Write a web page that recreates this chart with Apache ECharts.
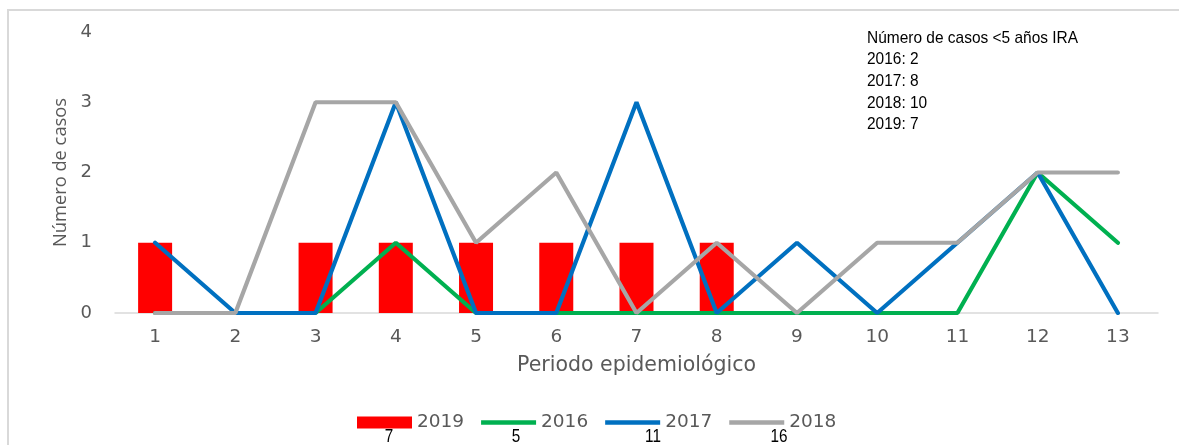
<!DOCTYPE html>
<html>
<head>
<meta charset="utf-8">
<script src="https://cdn.jsdelivr.net/npm/echarts@6/dist/echarts.min.js"></script>
<style>html,body{margin:0;padding:0;background:#fff}#c{width:1179px;height:445px}</style>
</head>
<body>
<div id="c"></div>
<script>
const categories = ['1','2','3','4','5','6','7','8','9','10','11','12','13'];
const s2019 = [1,0,1,1,1,1,1,1,0,0,0,0,0];
const s2016 = [0,0,0,1,0,0,0,0,0,0,0,2,1];
const s2017 = [1,0,0,3,0,0,3,0,1,0,1,2,0];
const s2018 = [0,0,3,3,1,2,0,1,0,1,1,2,2];
const seriesNames = ['2019','2016','2017','2018'];
const legendCounts = ['7','5','11','16'];
const noteLines = ['Número de casos <5 años IRA','2016: 2','2017: 8','2018: 10','2019: 7'];
const yTicks = [0,1,2,3,4];

const chart = echarts.init(document.getElementById('c'));
const wideFont = 'DejaVu Sans';
const countX = [389, 516, 653, 779];
const lineIcon = 'path://M0,0 L55,0 L55,4.5 L0,4.5 Z';
chart.setOption({
  animation: false,
  backgroundColor: '#fff',
  grid: {left: 115, right: 21, top: 32, height: 281},
  xAxis: {
    type: 'category', data: categories, boundaryGap: true,
    name: 'Periodo epidemiológico', nameLocation: 'middle', nameGap: 42,
    nameTextStyle: {color: '#595959', fontSize: 20.5, fontFamily: wideFont},
    axisLine: {lineStyle: {color: '#d9d9d9', width: 1.5}},
    axisTick: {show: false},
    axisLabel: {color: '#595959', fontSize: 18.5, fontFamily: wideFont, margin: 15}
  },
  yAxis: {
    type: 'value', min: yTicks[0], max: yTicks[yTicks.length-1], interval: 1,
    name: 'Número de casos', nameLocation: 'middle', nameGap: 42,
    nameTextStyle: {color: '#595959', fontSize: 18.3, fontFamily: 'Open Sans'},
    axisLine: {show: false}, axisTick: {show: false}, splitLine: {show: false},
    axisLabel: {color: '#595959', fontSize: 18, fontFamily: wideFont, margin: 23}
  },
  legend: {
    top: 408, left: 352, itemGap: 17, itemWidth: 55, itemHeight: 12,
    textStyle: {color: '#595959', fontSize: 18.5, fontFamily: wideFont},
    data: [
      {name: '2019', icon: 'rect'},
      {name: '2016', icon: lineIcon},
      {name: '2017', icon: lineIcon},
      {name: '2018', icon: lineIcon}
    ]
  },
  series: [
    {name: seriesNames[0], type: 'bar', data: s2019, barWidth: 34, itemStyle: {color: '#ff0000'}, z: 1},
    {name: seriesNames[1], type: 'line', data: s2016, showSymbol: false, symbol: 'none', lineStyle: {color: '#00b050', width: 4.2, cap: 'round'}, itemStyle: {color: '#00b050'}, z: 2},
    {name: seriesNames[2], type: 'line', data: s2017, showSymbol: false, symbol: 'none', lineStyle: {color: '#0070c0', width: 4.2, cap: 'round'}, itemStyle: {color: '#0070c0'}, z: 3},
    {name: seriesNames[3], type: 'line', data: s2018, showSymbol: false, symbol: 'none', lineStyle: {color: '#a6a6a6', width: 4.2, cap: 'round'}, itemStyle: {color: '#a6a6a6'}, z: 4}
  ],
  graphic: [
    {type: 'polyline', shape: {points: [[8, 460], [8, 10], [1200, 10]]}, style: {stroke: '#d9d9d9', lineWidth: 2, fill: null}, silent: true},
    {type: 'text', x: 867, y: 27, scaleX: 0.91, style: {text: noteLines.join('\n'), fill: '#000', fontSize: 17, lineHeight: 21.7, fontFamily: 'Liberation Sans'}},
  ].concat(legendCounts.map((t, i) => ({
    type: 'text', x: countX[i], y: 437, scaleX: 0.85, style: {text: t, fill: '#000', fontSize: 18, fontFamily: 'Liberation Sans', align: 'center', verticalAlign: 'middle'}
  })))
});
</script>
</body>
</html>
